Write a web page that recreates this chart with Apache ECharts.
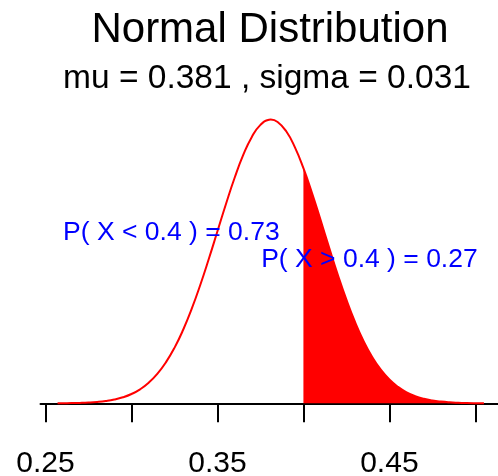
<!DOCTYPE html>
<html>
<head>
<meta charset="utf-8">
<script src="https://cdn.jsdelivr.net/npm/echarts@6/dist/echarts.min.js"></script>
<style>
  html, body { margin: 0; padding: 0; background: #fff; }
  #chart { width: 498px; height: 476px; }
</style>
</head>
<body>
<div id="chart"></div>
<script>
// density
const xs = [0.257, 0.26, 0.265, 0.27, 0.275, 0.28, 0.285, 0.29, 0.295, 0.30,
  0.305, 0.31, 0.315, 0.32, 0.325, 0.33, 0.335, 0.34, 0.345, 0.35,
  0.355, 0.36, 0.365, 0.37, 0.375, 0.38, 0.381, 0.385, 0.39, 0.395,
  0.40, 0.405, 0.41, 0.415, 0.42, 0.425, 0.43, 0.435, 0.44, 0.445,
  0.45, 0.455, 0.46, 0.465, 0.47, 0.475, 0.48, 0.485, 0.49, 0.495, 0.50, 0.505];
const dens = [0.004, 0.006, 0.012, 0.021, 0.037, 0.064, 0.107, 0.173, 0.274, 0.424,
  0.637, 0.934, 1.334, 1.857, 2.517, 3.326, 4.280, 5.367, 6.557, 7.806,
  9.054, 10.231, 11.264, 12.084, 12.630, 12.862, 12.869, 12.762, 12.338, 11.621,
  10.665, 9.537, 8.308, 7.053, 5.833, 4.700, 3.690, 2.823, 2.104, 1.528,
  1.081, 0.745, 0.501, 0.328, 0.209, 0.130, 0.079, 0.046, 0.027, 0.015, 0.008, 0.004];
const cutoff = 0.4;
const tickValues = [0.25, 0.30, 0.35, 0.40, 0.45, 0.50];
const tickLabels = [0.25, 0.35, 0.45];
const probLabels = [
  { x: 0.3232, y: 7.75, text: 'P( X < 0.4 ) = 0.73' },
  { x: 0.4384, y: 6.5, text: 'P( X > 0.4 ) = 0.27' }
];

const FONT = 'Liberation Sans, Arial, Helvetica, sans-serif';
const curve = xs.map((x, i) => [x, dens[i]]);
const tail = curve.filter((p) => p[0] >= cutoff);

const chart = echarts.init(document.getElementById('chart'), null, { renderer: 'canvas' });
chart.setOption({
  animation: false,
  title: [
    {
      text: 'Normal Distribution',
      left: 265, top: 4, textAlign: 'center',
      textStyle: { fontFamily: FONT, fontWeight: 'normal', fontSize: 42, color: '#000' }
    },
    {
      text: 'mu = 0.381 , sigma = 0.031',
      left: 262, top: 57, textAlign: 'center',
      textStyle: { fontFamily: FONT, fontWeight: 'normal', fontSize: 33.5, color: '#000' }
    }
  ],
  grid: {
    left: 40.5, top: 108.2, width: 460.5, height: 306.5,
    containLabel: false, outerBoundsMode: 'none'
  },
  xAxis: {
    type: 'value',
    min: 0.24708,
    max: 0.51492,
    splitLine: { show: false },
    axisLine: { onZero: true, lineStyle: { color: '#000', width: 2 } },
    axisTick: { show: true, length: 19, lineStyle: { color: '#000', width: 2 }, customValues: tickValues },
    axisLabel: {
      customValues: tickLabels,
      margin: 34,
      color: '#000',
      fontFamily: FONT,
      fontSize: 30,
      formatter: (v) => v.toFixed(2)
    }
  },
  yAxis: {
    type: 'value',
    min: -0.5148,
    max: 13.385,
    show: false
  },
  series: [
    {
      type: 'line',
      data: tail,
      smooth: true,
      showSymbol: false,
      lineStyle: { width: 0 },
      areaStyle: { color: '#ff0000', opacity: 1 },
      z: 2
    },
    {
      type: 'line',
      data: curve,
      smooth: true,
      showSymbol: false,
      lineStyle: { color: '#ff0000', width: 2 },
      z: 3
    },
    {
      type: 'scatter',
      symbolSize: 0,
      itemStyle: { opacity: 1 },
      data: probLabels.map((d) => ({ value: [d.x, d.y], name: d.text })),
      label: {
        show: true,
        position: 'inside',
        formatter: (p) => p.name,
        color: '#0000ff',
        opacity: 1,
        textBorderWidth: 0,
        fontFamily: FONT,
        fontSize: 26.5
      },
      z: 4
    }
  ]
});
</script>
</body>
</html>
